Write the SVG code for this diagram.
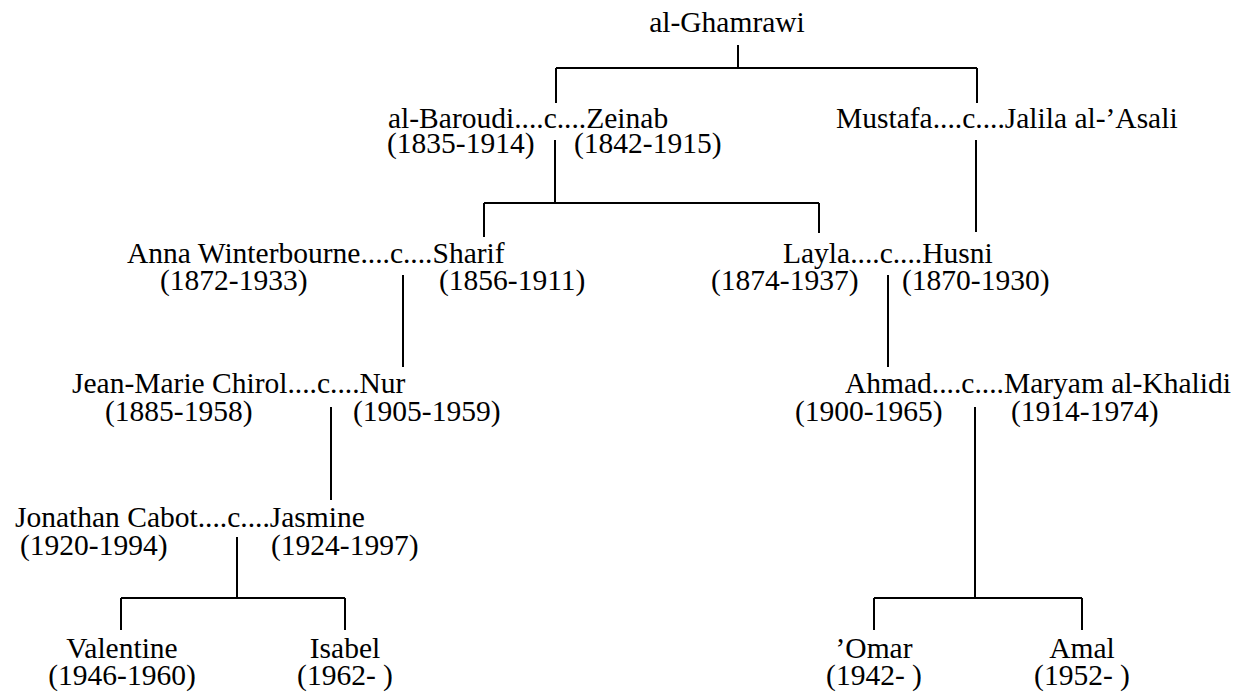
<svg xmlns="http://www.w3.org/2000/svg" width="1250" height="693" viewBox="0 0 1250 693">
<style>
text{font-family:"Liberation Serif","Times New Roman",serif;font-size:29.5px;fill:#000}
.m{text-anchor:middle}
#connectors line{stroke:#000;stroke-width:2;fill:none}
</style>
<rect width="1250" height="693" fill="#fff"/>
<g id="connectors">
<line x1="738" y1="45" x2="738" y2="68"/>
<line x1="556" y1="68" x2="977" y2="68"/>
<line x1="556" y1="68" x2="556" y2="103"/>
<line x1="977" y1="68" x2="977" y2="103"/>
<line x1="555" y1="140" x2="555" y2="203"/>
<line x1="976" y1="140" x2="976" y2="232"/>
<line x1="484" y1="203" x2="819" y2="203"/>
<line x1="484" y1="203" x2="484" y2="237"/>
<line x1="819" y1="203" x2="819" y2="233"/>
<line x1="403" y1="275" x2="403" y2="367"/>
<line x1="888" y1="275" x2="888" y2="367"/>
<line x1="331" y1="407" x2="331" y2="500"/>
<line x1="975" y1="407" x2="975" y2="598"/>
<line x1="237" y1="537" x2="237" y2="598"/>
<line x1="121" y1="598" x2="345" y2="598"/>
<line x1="121" y1="598" x2="121" y2="630"/>
<line x1="345" y1="598" x2="345" y2="630"/>
<line x1="874" y1="598" x2="1082" y2="598"/>
<line x1="874" y1="598" x2="874" y2="630"/>
<line x1="1082" y1="598" x2="1082" y2="630"/>
</g>
<g id="n-ghamrawi"><text class="m" x="727" y="32">al-Ghamrawi</text></g>
<g id="n-baroudi-zeinab"><text x="388" y="128">al-Baroudi....c....Zeinab</text><text x="387" y="153">(1835-1914)</text><text x="574" y="153">(1842-1915)</text></g>
<g id="n-mustafa-jalila"><text x="836" y="128">Mustafa....c....Jalila al-’Asali</text></g>
<g id="n-anna-sharif"><text x="127" y="263">Anna Winterbourne....c....Sharif</text><text x="160" y="290">(1872-1933)</text><text x="439" y="290">(1856-1911)</text></g>
<g id="n-layla-husni"><text x="783" y="263">Layla....c....Husni</text><text x="711" y="290">(1874-1937)</text><text x="902" y="290">(1870-1930)</text></g>
<g id="n-jeanmarie-nur"><text x="72" y="393">Jean-Marie Chirol....c....Nur</text><text x="105" y="421">(1885-1958)</text><text x="353" y="421">(1905-1959)</text></g>
<g id="n-ahmad-maryam"><text x="845" y="393">Ahmad....c....Maryam al-Khalidi</text><text x="795" y="421">(1900-1965)</text><text x="1011" y="421">(1914-1974)</text></g>
<g id="n-jonathan-jasmine"><text x="15" y="527">Jonathan Cabot....c....Jasmine</text><text x="20" y="555">(1920-1994)</text><text x="271" y="555">(1924-1997)</text></g>
<g id="n-valentine"><text class="m" x="122" y="658">Valentine</text><text class="m" x="122" y="685">(1946-1960)</text></g>
<g id="n-isabel"><text class="m" x="345" y="658">Isabel</text><text class="m" x="345" y="685">(1962- )</text></g>
<g id="n-omar"><text class="m" x="874" y="658">’Omar</text><text class="m" x="874" y="685">(1942- )</text></g>
<g id="n-amal"><text class="m" x="1082" y="658">Amal</text><text class="m" x="1082" y="685">(1952- )</text></g>
</svg>
